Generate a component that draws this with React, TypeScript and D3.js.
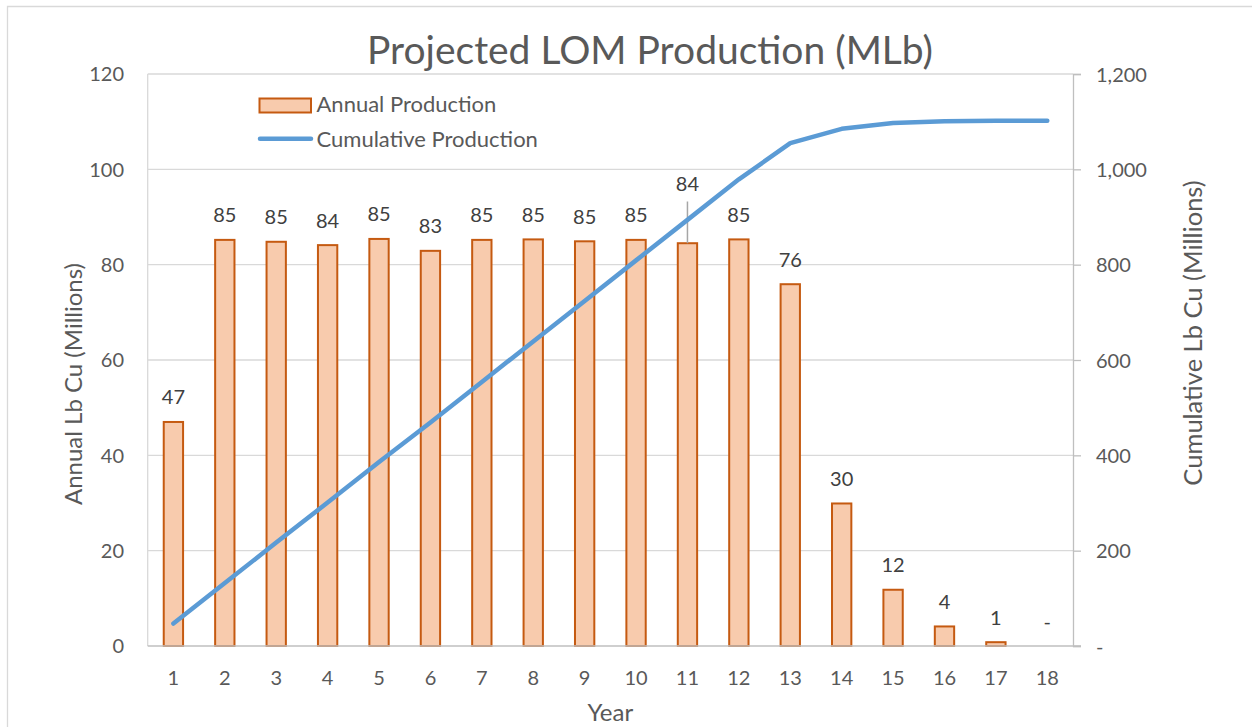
import {useEffect, useRef} from 'react';
import * as d3 from 'd3';

// data
const years = ['1', '2', '3', '4', '5', '6', '7', '8', '9', '10', '11', '12', '13', '14', '15', '16', '17', '18'];
const annual = [47, 85.2, 84.8, 84.1, 85.4, 82.9, 85.2, 85.3, 84.9, 85.2, 84.5, 85.3, 75.9, 29.9, 11.8, 4.1, 0.8, 0];
const annualLabels = ['47', '85', '85', '84', '85', '83', '85', '85', '85', '85', '84', '85', '76', '30', '12', '4', '1', '-'];
const cumulative = [47, 132, 217, 301, 386, 469, 554, 639, 724, 809, 894, 979, 1055, 1085, 1097, 1101, 1102, 1102];
const leftTicks = [0, 20, 40, 60, 80, 100, 120];
const rightTicks = [0, 200, 400, 600, 800, 1000, 1200];

// parameters
const width = 1252;
const height = 727;
const margin = {left: 147.7, right: 1073, top: 74, bottom: 646};
const font = 'Lato, "Open Sans", sans-serif';
const grey = '#595959';
const barFill = '#F8CBAD';
const barStroke = '#C55A11';
const lineColor = '#5B9BD5';

export default function App() {
  const ref = useRef(null);
  useEffect(() => {
    if (!ref.current)
      return;
    const svg = d3.select(ref.current);
    svg.selectAll('*').remove();

    // scales
    const x = d3.scaleBand<string>()
      .domain(years)
      .range([margin.left, margin.right])
      .paddingInner(0.585)
      .paddingOuter(0.2925);
    const yL = d3.scaleLinear().domain([0, 120]).range([margin.bottom, margin.top]);
    const yR = d3.scaleLinear().domain([0, 1200]).range([margin.bottom, margin.top]);
    const cx = (d: string) => (x(d) || 0) + x.bandwidth() / 2;

    // background and outer border
    svg.append('rect')
      .attr('x', 0).attr('y', 0).attr('width', width).attr('height', height)
      .attr('fill', 'white');
    svg.append('path')
      .attr('d', `M7.5,${height} V6.5 H${width}`)
      .attr('fill', 'none')
      .attr('stroke', '#D9D9D9')
      .attr('stroke-width', 1.3);

    // gridlines
    svg.append('g')
      .selectAll('line')
      .data(leftTicks.filter(t => t > 0))
      .enter()
      .append('line')
      .attr('x1', margin.left).attr('x2', margin.right)
      .attr('y1', d => yL(d)).attr('y2', d => yL(d))
      .attr('stroke', '#D9D9D9')
      .attr('stroke-width', 1.3);

    // left plot edge
    svg.append('line')
      .attr('x1', margin.left).attr('x2', margin.left)
      .attr('y1', margin.top).attr('y2', margin.bottom)
      .attr('stroke', '#D9D9D9')
      .attr('stroke-width', 1.3);

    // left axis labels
    svg.append('g')
      .selectAll('text')
      .data(leftTicks)
      .enter()
      .append('text')
      .attr('x', 124)
      .attr('y', d => yL(d))
      .attr('dy', '0.36em')
      .attr('text-anchor', 'end')
      .style('font-family', font)
      .style('font-size', '20px')
      .style('fill', grey)
      .text(d => d);

    // right axis
    const right = svg.append('g')
      .attr('transform', `translate(${margin.right},0)`)
      .call(d3.axisRight(yR)
        .tickValues(rightTicks)
        .tickSize(8)
        .tickPadding(15)
        .tickFormat(d => (+d === 0 ? '-' : d3.format(',')(+d))));
    right.select('.domain').attr('stroke', '#BFBFBF').attr('stroke-width', 1.3);
    right.selectAll('.tick line').attr('stroke', '#BFBFBF').attr('stroke-width', 1.3);
    right.selectAll('.tick text')
      .attr('dy', '0.36em')
      .style('font-family', font)
      .style('font-size', '20px')
      .style('fill', grey);

    // bars
    svg.append('g')
      .selectAll('rect')
      .data(years.map((y, i) => ({year: y, value: annual[i]})).filter(d => d.value > 0))
      .enter()
      .append('rect')
      .attr('x', d => (x(d.year) || 0) + 1)
      .attr('y', d => yL(d.value))
      .attr('width', x.bandwidth() - 2)
      .attr('height', d => yL(0) - yL(d.value))
      .attr('fill', barFill)
      .attr('stroke', barStroke)
      .attr('stroke-width', 2);

    // bottom axis line
    svg.append('line')
      .attr('x1', margin.left).attr('x2', margin.right + 8)
      .attr('y1', margin.bottom).attr('y2', margin.bottom)
      .attr('stroke', '#BFBFBF')
      .attr('stroke-width', 1.5);

    // category labels
    svg.append('g')
      .selectAll('text')
      .data(years)
      .enter()
      .append('text')
      .attr('x', d => cx(d))
      .attr('y', 685)
      .attr('text-anchor', 'middle')
      .style('font-family', font)
      .style('font-size', '20px')
      .style('fill', grey)
      .text(d => d);

    // leader line for year 11 label
    svg.append('line')
      .attr('x1', cx('11')).attr('x2', cx('11'))
      .attr('y1', 201.5).attr('y2', yL(annual[10]))
      .attr('stroke', '#A6A6A6')
      .attr('stroke-width', 1.5);

    // data labels
    svg.append('g')
      .selectAll('text')
      .data(years.map((y, i) => ({year: y, value: annual[i], label: annualLabels[i]})))
      .enter()
      .append('text')
      .attr('x', d => cx(d.year))
      .attr('y', d => (d.year === '11' ? 191.3 : yL(d.value) - 17.5))
      .attr('text-anchor', 'middle')
      .style('font-family', font)
      .style('font-size', '20px')
      .style('fill', '#404040')
      .text(d => d.label);

    // cumulative line
    const line = d3.line<number>()
      .x((d, i) => cx(years[i]))
      .y(d => yR(d));
    svg.append('path')
      .attr('d', line(cumulative))
      .attr('fill', 'none')
      .attr('stroke', lineColor)
      .attr('stroke-width', 4.5)
      .attr('stroke-linecap', 'round')
      .attr('stroke-linejoin', 'round');

    // title
    svg.append('text')
      .attr('x', 650)
      .attr('y', 64)
      .attr('text-anchor', 'middle')
      .style('font-family', font)
      .style('font-size', '39px')
      .style('fill', grey)
      .text('Projected LOM Production (MLb)');

    // axis titles
    svg.append('text')
      .attr('transform', `translate(82,${(margin.top + margin.bottom) / 2 + 24}) rotate(-90)`)
      .attr('text-anchor', 'middle')
      .style('font-family', font)
      .style('font-size', '24px')
      .style('fill', grey)
      .text('Annual Lb Cu (Millions)');
    svg.append('text')
      .attr('transform', `translate(1202,${(margin.top + margin.bottom) / 2 - 27}) rotate(-90)`)
      .attr('text-anchor', 'middle')
      .style('font-family', font)
      .style('font-size', '25.5px')
      .style('fill', grey)
      .text('Cumulative Lb Cu (Millions)');
    svg.append('text')
      .attr('x', (margin.left + margin.right) / 2)
      .attr('y', 721)
      .attr('text-anchor', 'middle')
      .style('font-family', font)
      .style('font-size', '24px')
      .style('fill', grey)
      .text('Year');

    // legend
    const legend = svg.append('g');
    legend.append('rect')
      .attr('x', 259.5).attr('y', 98.5).attr('width', 51.5).attr('height', 14)
      .attr('fill', barFill)
      .attr('stroke', barStroke)
      .attr('stroke-width', 2);
    legend.append('text')
      .attr('x', 316.5).attr('y', 112)
      .style('font-family', font)
      .style('font-size', '22px')
      .style('fill', grey)
      .text('Annual Production');
    legend.append('line')
      .attr('x1', 260).attr('x2', 311).attr('y1', 138.7).attr('y2', 138.7)
      .attr('stroke', lineColor)
      .attr('stroke-width', 4.5)
      .attr('stroke-linecap', 'round');
    legend.append('text')
      .attr('x', 316.5).attr('y', 146.5)
      .style('font-family', font)
      .style('font-size', '22px')
      .style('fill', grey)
      .text('Cumulative Production');
  }, [ref]);
  return <svg
    ref={ref}
    width={width}
    height={height}
    style={{position: 'absolute', left: 0, top: 0}}
  />;
}
